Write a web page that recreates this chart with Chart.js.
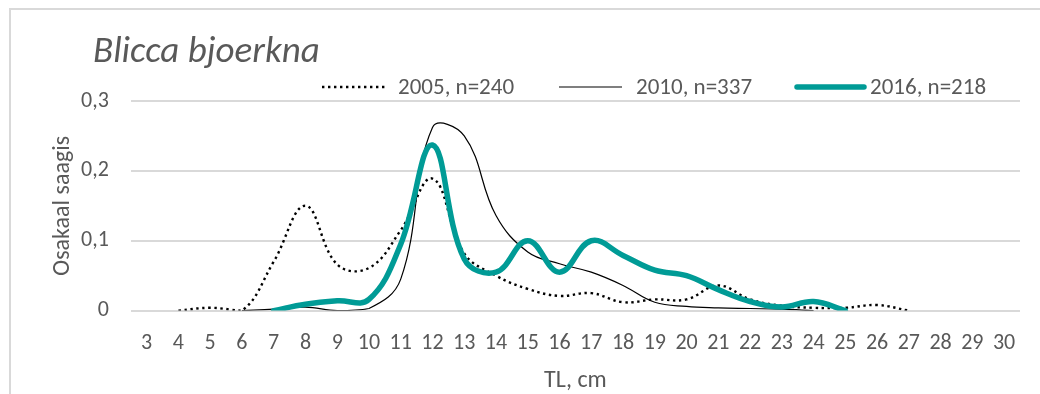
<!DOCTYPE html>
<html>
<head>
<meta charset="utf-8">
<script src="https://cdn.jsdelivr.net/npm/chart.js@4/dist/chart.umd.min.js"></script>
<style>
  html, body { margin: 0; padding: 0; background: #fff; }
  #wrap { position: relative; width: 1040px; height: 394px; }
  #frame { position: absolute; left: 9px; top: 8px; width: 1100px; height: 500px; border: 2px solid #d9d9d9; box-sizing: border-box; }
</style>
</head>
<body>
<div id="wrap">
  <div id="frame"></div>
  <canvas id="lengthChart" width="1040" height="394" style="position:absolute;left:0;top:0"></canvas>
</div>
<script>
var FONT = "Carlito, Calibri, Lato, 'Open Sans', sans-serif";
var TXT = '#595959';

// pikkusklassid, cm
var lengths = ['3','4','5','6','7','8','9','10','11','12','13','14','15','16','17','18','19','20','21','22','23','24','25','26','27','28','29','30'];

var y2005 = [null, 0, 0.004, 0, 0.07, 0.15, 0.066, 0.061, 0.115, 0.189, 0.082, 0.05, 0.031, 0.021, 0.025, 0.012, 0.016, 0.016, 0.036, 0.016, 0.007, 0.004, 0.004, 0.008, 0, null, null, null];
var y2010 = [null, null, null, 0, 0.002, 0.005, 0, 0.003, 0.045, 0.262, 0.25, 0.136, 0.084, 0.067, 0.055, 0.036, 0.012, 0.006, 0.004, 0.003, 0.002, 0, null, null, null, null, null, null];
var y2016 = [null, null, null, null, 0, 0.009, 0.014, 0.016, 0.095, 0.237, 0.074, 0.055, 0.1, 0.055, 0.1, 0.079, 0.058, 0.05, 0.03, 0.013, 0.005, 0.013, 0, null, null, null, null, null];

var seriesNames = ['2005, n=240', '2010, n=337', '2016, n=218'];
var yTicks = [0, 0.1, 0.2, 0.3];
var xTitle = 'TL, cm';
var yTitle = 'Osakaal saagis';

function commaify(v) {
    return ('' + v).replace('.', ',');
}

// pealkiri, legend ja telgede nimed joonistatakse käsitsi
var headerPlugin = {
    id: 'header',
    afterDraw: function (chart) {
        var ctx = chart.ctx;
        var area = chart.chartArea;
        ctx.save();
        ctx.fillStyle = TXT;
        ctx.font = 'italic 37px ' + FONT;
        ctx.textBaseline = 'alphabetic';
        ctx.textAlign = 'left';
        ctx.fillText('Blicca bjoerkna', 93, 62);

        var items = [{x0: 322, x1: 386, tx: 398}, {x0: 559, x1: 622, tx: 636}, {x0: 797, x1: 864, tx: 870}];
        ctx.font = '23px ' + FONT;
        ctx.textBaseline = 'middle';
        chart.data.datasets.forEach(function (ds, i) {
            var it = items[i];
            ctx.save();
            ctx.strokeStyle = ds.borderColor;
            ctx.lineWidth = ds.borderWidth;
            ctx.lineCap = ds.borderCapStyle || 'butt';
            ctx.setLineDash(ds.borderDash || []);
            ctx.beginPath();
            ctx.moveTo(it.x0, 87);
            ctx.lineTo(it.x1, 87);
            ctx.stroke();
            ctx.restore();
            ctx.fillText(ds.label, it.tx, 88);
        });

        ctx.font = '24px ' + FONT;
        ctx.textAlign = 'center';
        ctx.fillText(xTitle, (area.left + area.right) / 2, 381);
        ctx.translate(63, (area.top + area.bottom) / 2);
        ctx.rotate(-Math.PI / 2);
        ctx.fillText(yTitle, 0, 0);
        ctx.restore();
    }
};

var ctx = document.getElementById('lengthChart').getContext('2d');
var chart = new Chart(ctx, {
    type: 'line',
    data: {
        labels: lengths,
        datasets: [{
            label: seriesNames[0],
            data: y2005,
            borderColor: '#000000',
            borderWidth: 2.4,
            borderDash: [2.4, 3.6],
            borderCapStyle: 'butt',
            tension: 0.4,
            pointRadius: 0,
            order: 3
        }, {
            label: seriesNames[1],
            data: y2010,
            borderColor: '#000000',
            borderWidth: 1.2,
            tension: 0.4,
            pointRadius: 0,
            order: 2
        }, {
            label: seriesNames[2],
            data: y2016,
            borderColor: '#009B96',
            borderWidth: 5.5,
            borderCapStyle: 'round',
            tension: 0.4,
            pointRadius: 0,
            order: 1
        }]
    },
    options: {
        responsive: false,
        animation: false,
        spanGaps: false,
        layout: { padding: { left: 59, right: 20, top: 101, bottom: 17 } },
        plugins: {
            legend: { display: false },
            tooltip: { enabled: false }
        },
        scales: {
            x: {
                offset: true,
                grid: { display: false, drawTicks: false },
                border: { display: false },
                ticks: {
                    color: TXT,
                    font: { family: FONT, size: 22 },
                    padding: 20,
                    maxRotation: 0,
                    autoSkip: false
                }
            },
            y: {
                min: 0,
                max: 0.3,
                afterBuildTicks: function (axis) {
                    axis.ticks = yTicks.map(function (v) { return { value: v }; });
                },
                grid: { color: '#d9d9d9', lineWidth: 2, drawTicks: false },
                border: { display: false },
                ticks: {
                    color: TXT,
                    font: { family: FONT, size: 22 },
                    padding: 22,
                    callback: function (v) { return commaify(v); }
                }
            }
        }
    },
    plugins: [headerPlugin]
});
</script>
</body>
</html>
